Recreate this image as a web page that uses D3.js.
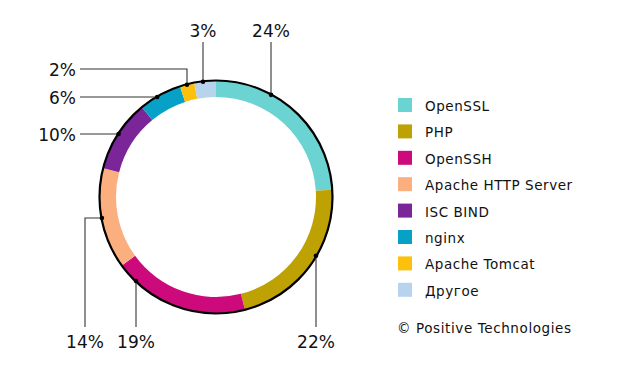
<!DOCTYPE html>
<html>
<head>
<meta charset="utf-8">
<script src="https://cdn.jsdelivr.net/npm/d3@7"></script>
<style>
  html, body { margin: 0; padding: 0; background: #fff; }
  svg { display: block; }
  text { font-family: "DejaVu Sans", sans-serif; fill: #111; }
</style>
</head>
<body>
<svg id="chart" width="623" height="378"></svg>
<script>
// ---- Data ----
const categories = ["OpenSSL", "PHP", "OpenSSH", "Apache HTTP Server", "ISC BIND", "nginx", "Apache Tomcat", "Другое"];
const values = [24, 22, 19, 14, 10, 6, 2, 3];
const colors = ["#6bd3d1", "#bea204", "#cd0a7c", "#fcaf7e", "#7a2598", "#07a0c7", "#fdc00d", "#b8d3ee"];
const sourceNote = "© Positive Technologies";

// ---- Layout ----
const W = 623, H = 378;
const cx = 216, cy = 197, rOuter = 116, rInner = 100;
const topLabelY = 37, topLineY = 42, bottomLineY = 327, bottomLabelY = 348;
const leftLabelX = 76, leftLineX = 80;
// leader routing per slice (layout only)
const leaders = [
  { route: "up", x: 271 },
  { route: "down", x: 316 },
  { route: "down", x: 136 },
  { route: "left-down", y: 218, x: 85 },
  { route: "left", y: 134 },
  { route: "left", y: 97 },
  { route: "up-left", x: 187, y: 69 },
  { route: "up", x: 203 }
];

const svg = d3.select("#chart");

const pie = d3.pie().sort(null).value(d => d).startAngle(0).endAngle(2 * Math.PI);
const arcs = pie(values);
const arc = d3.arc().innerRadius(rInner).outerRadius(rOuter);

const g = svg.append("g").attr("transform", `translate(${cx},${cy})`);
g.selectAll("path.slice").data(arcs).join("path")
  .attr("class", "slice")
  .attr("d", arc)
  .attr("fill", (d, i) => colors[i]);

g.append("circle").attr("r", rOuter + 0.5).attr("fill", "none")
  .attr("stroke", "#000").attr("stroke-width", 2.2);

// leaders
function yOnCircle(x, sign) { const dx = x - cx; return cy + sign * Math.sqrt(rOuter * rOuter - dx * dx); }
function xOnCircleLeft(y) { const dy = y - cy; return cx - Math.sqrt(rOuter * rOuter - dy * dy); }

const lg = svg.append("g");
arcs.forEach((a, i) => {
  const L = leaders[i];
  const label = values[i] + "%";
  let pts, dot, tx, ty, anchor;
  if (L.route === "up") {
    dot = [L.x, yOnCircle(L.x, -1)];
    pts = [[L.x, topLineY], dot];
    tx = L.x; ty = topLabelY; anchor = "middle";
  } else if (L.route === "down") {
    dot = [L.x, yOnCircle(L.x, 1)];
    pts = [dot, [L.x, bottomLineY]];
    tx = L.x; ty = bottomLabelY; anchor = "middle";
  } else if (L.route === "left") {
    dot = [xOnCircleLeft(L.y), L.y];
    pts = [[leftLineX, L.y], dot];
    tx = leftLabelX; ty = L.y + 6.5; anchor = "end";
  } else if (L.route === "up-left") {
    dot = [L.x, yOnCircle(L.x, -1)];
    pts = [[leftLineX, L.y], [L.x, L.y], dot];
    tx = leftLabelX; ty = L.y + 6.5; anchor = "end";
  } else if (L.route === "left-down") {
    dot = [xOnCircleLeft(L.y), L.y];
    pts = [dot, [L.x, L.y], [L.x, bottomLineY]];
    tx = L.x; ty = bottomLabelY; anchor = "middle";
  }
  lg.append("path").attr("d", d3.line()(pts)).attr("fill", "none")
    .attr("stroke", "#333").attr("stroke-width", 1.1);
  lg.append("circle").attr("cx", dot[0]).attr("cy", dot[1]).attr("r", 2.3).attr("fill", "#000");
  lg.append("text").attr("x", tx).attr("y", ty).attr("text-anchor", anchor)
    .attr("font-size", 17).text(label);
});

// legend
const legX = 398, legY0 = 98, legStep = 26.4, sw = 14;
const leg = svg.append("g");
categories.forEach((c, i) => {
  const y = legY0 + i * legStep;
  leg.append("rect").attr("x", legX).attr("y", y).attr("width", sw).attr("height", sw).attr("fill", colors[i]);
  leg.append("text").attr("x", 425).attr("y", y + 13).attr("font-size", 13.5)
    .attr("letter-spacing", 0.55).text(c);
});
svg.append("text").attr("x", 397).attr("y", 333).attr("font-size", 13.5)
  .attr("letter-spacing", 0.6).text(sourceNote);
</script>
</body>
</html>
